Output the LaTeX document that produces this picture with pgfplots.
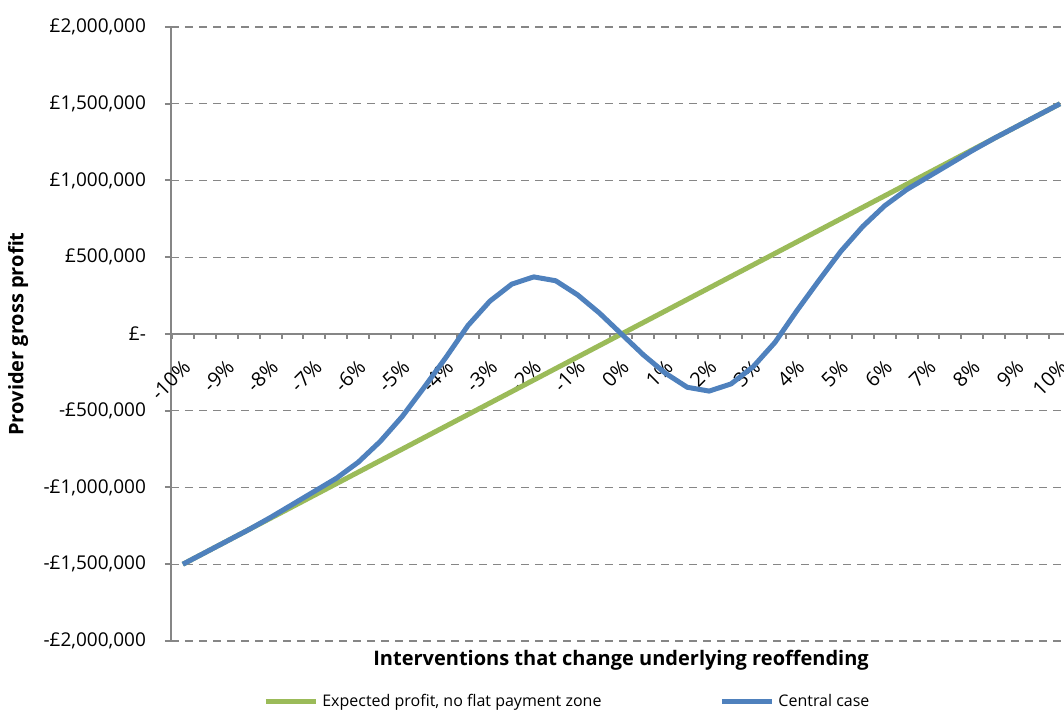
\documentclass[border=0pt]{standalone}
\usepackage{fontspec}
\setmainfont{Open Sans}
\usepackage{pgfplots}
\pgfplotsset{compat=1.18}
\definecolor{exgreen}{HTML}{9BBB59}
\definecolor{exblue}{HTML}{4F81BD}
\definecolor{axgray}{HTML}{868686}
\begin{document}
\begin{tikzpicture}
\begin{axis}[
  width=446.5pt, height=307pt, scale only axis,
  xmin=-10.27, xmax=10.09,
  ymin=-2000000, ymax=2000000,
  axis y line=left, axis x line=middle,
  axis line style={axgray, line width=1pt, -},
  hide obscured x ticks=false, hide obscured y ticks=false,
  scaled y ticks=false,
  xtick={-10,-9,-8,-7,-6,-5,-4,-3,-2,-1,0,1,2,3,4,5,6,7,8,9,10},
  xticklabels={-10\%,-9\%,-8\%,-7\%,-6\%,-5\%,-4\%,-3\%,-2\%,-1\%,0\%,1\%,2\%,3\%,4\%,5\%,6\%,7\%,8\%,9\%,10\%},
  major x tick style={draw=none},
  minor xtick={-10.25,-9.75,...,10},
  minor x tick style={axgray, line width=1pt},
  minor tick length=2.5pt,
  ytick={-2000000,-1500000,-1000000,-500000,0,500000,1000000,1500000,2000000},
  yticklabels={{-£2,000,000},{-£1,500,000},{-£1,000,000},{-£500,000},{£-},{£500,000},{£1,000,000},{£1,500,000},{£2,000,000}},
  major y tick style={axgray, line width=1pt},
  major tick length=3pt,
  tick align=outside,
  ymajorgrids,
  grid style={axgray, line width=0.6pt, dash pattern=on 4pt off 3pt},
  tick label style={color=black},
  yticklabel style={font=\fontsize{9.5}{11}\selectfont, xshift=-6pt},
  xticklabel style={font=\fontsize{10}{11}\selectfont, rotate=45, anchor=north east, inner sep=1pt, xshift=-6pt, yshift=-5pt},
  xlabel={Interventions that change underlying reoffending},
  ylabel={Provider gross profit},
  label style={font=\bfseries\fontsize{10}{12}\selectfont},
  xlabel style={at={(axis description cs:0.504,-0.031)}, anchor=center},
  ylabel style={at={(axis description cs:-0.1713,0.5)}, anchor=center, rotate=0},
  legend columns=2,
  legend cell align=left,
  legend style={draw=none, fill=none, at={(axis description cs:0.445,-0.0993)}, anchor=center,
    font=\fontsize{8}{9}\selectfont,
    /tikz/every even column/.append style={column sep=57pt}},
  legend image code/.code={\draw[#1, line width=2.5pt] (0pt,0pt) -- (25pt,0pt);},
]
\addplot[exgreen, line width=2.5pt, line join=round] coordinates {
(-10,-1500000) (-9.5,-1425000) (-9,-1350000) (-8.5,-1275000) (-8,-1200000)
(-7.5,-1125000) (-7,-1050000) (-6.5,-975000) (-6,-900000) (-5.5,-825000)
(-5,-750000) (-4.5,-675000) (-4,-600000) (-3.5,-525000) (-3,-450000)
(-2.5,-375000) (-2,-300000) (-1.5,-225000) (-1,-150000) (-0.5,-75000)
(0,0) (0.5,75000) (1,150000) (1.5,225000) (2,300000) (2.5,375000)
(3,450000) (3.5,525000) (4,600000) (4.5,675000) (5,750000) (5.5,825000)
(6,900000) (6.5,975000) (7,1050000) (7.5,1125000) (8,1200000)
(8.5,1275000) (9,1350000) (9.5,1425000) (10,1500000)
};
\addlegendentry{Expected profit, no flat payment zone}
\addplot[exblue, line width=2.5pt, line join=round] coordinates {
(-10,-1500000) (-9.5,-1425000) (-9,-1350000) (-8.5,-1275000) (-8,-1195000)
(-7.5,-1110000) (-7,-1025000) (-6.5,-940000) (-6,-835000) (-5.5,-700000)
(-5,-538000) (-4.5,-348000) (-4,-152000) (-3.5,55000) (-3,214000)
(-2.5,325000) (-2,372000) (-1.5,347000) (-1,255000) (-0.5,136000)
(0,0) (0.5,-136000) (1,-255000) (1.5,-347000) (2,-372000) (2.5,-325000)
(3,-214000) (3.5,-55000) (4,152000) (4.5,348000) (5,538000) (5.5,700000)
(6,835000) (6.5,940000) (7,1025000) (7.5,1110000) (8,1195000)
(8.5,1275000) (9,1350000) (9.5,1425000) (10,1500000)
};
\addlegendentry{Central case}
\end{axis}
\path (current axis.north west) ++(-85.5pt,13.5pt) coordinate (tl);
\path (current axis.south east) ++(0pt,-35pt) coordinate (br);
\pgfresetboundingbox
\path[use as bounding box] (tl) rectangle (br);
\end{tikzpicture}
\end{document}
